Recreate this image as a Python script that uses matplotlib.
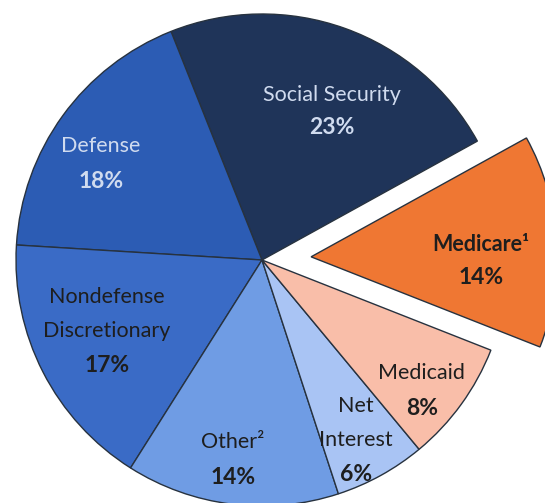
import matplotlib
matplotlib.use("Agg")
from matplotlib import pyplot as plt

# slices in counterclockwise order, starting with Medicare
categories = ["Medicare", "Social Security", "Defense", "Nondefense Discretionary",
              "Other", "Net Interest", "Medicaid"]
shares = [14, 23, 18, 17, 14, 6, 8]
names = [["Medicare\u00b9"], ["Social Security"], ["Defense"],
         ["Nondefense", "Discretionary"], ["Other\u00b2"], ["Net", "Interest"],
         ["Medicaid"]]
pct_labels = ["14%", "23%", "18%", "17%", "14%", "6%", "8%"]

colors = ["#ef7733", "#1f3459", "#2c5cb4", "#3a6bc6", "#6f9ce4", "#a9c4f4", "#f9bea9"]
text_colors = ["#1e1e1e", "#d0dbef", "#d0dbef", "#1e1e1e", "#1e1e1e", "#1e1e1e", "#1e1e1e"]
explode = [0.2, 0, 0, 0, 0, 0, 0]

# label block anchor (centre x, first line y) in axes data units, and line steps
label_anchor = [(0.890, 0.061), (0.285, 0.671), (-0.655, 0.463), (-0.630, -0.150),
                (-0.118, -0.740), (0.382, -0.593), (0.650, -0.460)]
line_steps = [0.132, 0.132, 0.145, 0.140, 0.145, 0.140, 0.142]

fig = plt.figure(figsize=(5.45, 5.03), dpi=100)
ax = fig.add_axes([0, 0, 1, 1])
ax.pie(shares, colors=colors, explode=explode, startangle=-21.5,
       counterclock=True, radius=1,
       wedgeprops=dict(edgecolor="#27323f", linewidth=1.0))
ax.set_aspect("auto")
ax.set_xlim(-262 / 246, (545 - 262) / 246)
ax.set_ylim(-(503 - 260) / 246, 260 / 246)
ax.axis("off")

font = ["Lato", "DejaVu Sans"]
for i in range(len(categories)):
    x, y = label_anchor[i]
    step = line_steps[i]
    weight = "bold" if i == 0 else "normal"
    for line in names[i]:
        ax.text(x, y, line, ha="center", va="center", fontsize=15.5,
                color=text_colors[i], family=font, weight=weight)
        y -= step
    ax.text(x, y, pct_labels[i], ha="center", va="center", fontsize=16.5,
            color=text_colors[i], family=font, weight="bold")

fig.savefig("out.png", dpi=100)
